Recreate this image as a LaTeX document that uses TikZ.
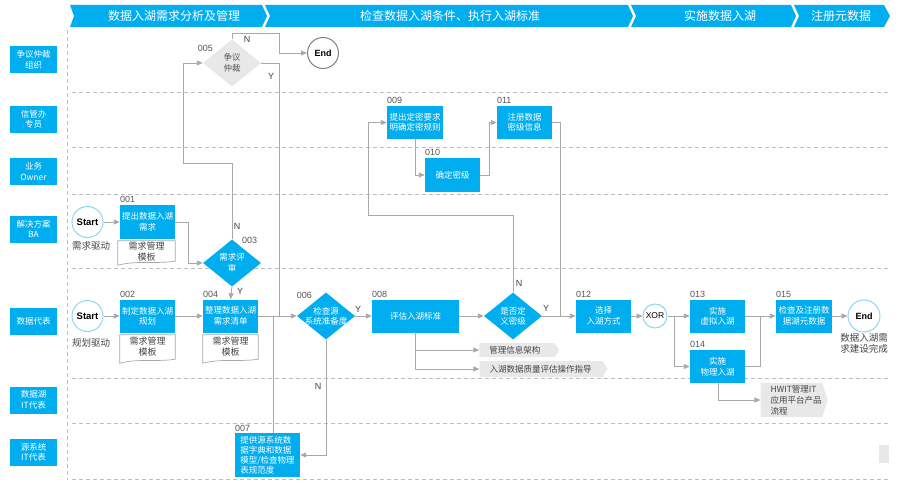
\documentclass[tikz,border=0pt]{standalone}
\usepackage{fontspec}
\setmainfont{Noto Sans CJK SC}
\newfontfamily\lat{Liberation Sans}
\usetikzlibrary{arrows.meta,shapes.geometric,shapes.symbols,calc}
\definecolor{cy}{RGB}{0,174,239}
\definecolor{lcy}{RGB}{140,214,240}
\definecolor{lg}{RGB}{168,168,168}
\definecolor{dashc}{RGB}{190,190,190}
\definecolor{tg}{RGB}{232,232,232}
\definecolor{dg}{RGB}{68,68,68}
\definecolor{numc}{RGB}{85,85,85}
\newcommand\docbox[1]{\draw[draw=lg, line width=0.7pt, fill=white] (#1.north west) -- (#1.north east) -- ([yshift=4pt]#1.south east) .. controls ([xshift=-20pt,yshift=1pt]#1.south east) and ([xshift=20pt,yshift=5pt]#1.south west) .. (#1.south west) -- cycle;}
\begin{document}
\begin{tikzpicture}[x=1pt,y=-1pt,
  conn/.style={draw=lg, line width=0.9pt, -{Triangle[length=6pt,width=5pt]}},
  ln/.style={draw=lg, line width=0.9pt},
  dashln/.style={draw=dashc, line width=0.7pt, dash pattern=on 4pt off 3pt},
  lane/.style={fill=cy, text=white, minimum width=47pt, minimum height=27pt, inner sep=0pt, align=center, font=\fontsize{8.5}{10.5}\selectfont},
  box/.style={fill=cy, text=white, align=center, inner sep=0pt, minimum width=55pt, minimum height=33pt, font=\fontsize{8.5}{10.5}\selectfont},
  dec/.style={diamond, fill=cy, minimum width=58pt, minimum height=47pt, inner sep=0pt},
  dtx/.style={text=white, align=center, inner sep=0pt, font=\fontsize{8.5}{10.5}\selectfont},
  num/.style={text=numc, inner sep=0pt, font=\lat\fontsize{9}{10}\selectfont},
  yn/.style={text=dg, inner sep=0pt, font=\lat\fontsize{9}{10}\selectfont},
  doc/.style={minimum width=55pt, minimum height=27pt, inner sep=0pt, align=center, text=dg, font=\fontsize{9}{11}\selectfont},
  circ/.style={circle, draw=lcy, line width=1pt, fill=white, inner sep=0pt, text=black},
  tag/.style={signal, signal to=east, fill=tg, inner sep=0pt},
  tagtx/.style={text=dg, align=left, inner sep=0pt, anchor=west, font=\fontsize{8.5}{11}\selectfont},
  captx/.style={text=dg, align=center, inner sep=0pt, font=\fontsize{9.5}{11.5}\selectfont},
  head/.style={text=white, inner sep=0pt, font=\fontsize{12}{14}\selectfont}
]
\useasboundingbox (0,0) rectangle (900,484);
% header chevrons
\fill[cy] (70,5) -- (262,5) -- (267,16) -- (262,27) -- (70,27) -- (74,16) -- cycle;
\fill[cy] (265,5) -- (628,5) -- (633,16) -- (628,27) -- (265,27) -- (270,16) -- cycle;
\fill[cy] (631,5) -- (791,5) -- (796,16) -- (791,27) -- (631,27) -- (636,16) -- cycle;
\fill[cy] (794,5) -- (884,5) -- (890,16) -- (884,27) -- (794,27) -- (799,16) -- cycle;
\node[head] (h1) at (174,16) {数据入湖需求分析及管理};
\node[head] (h2) at (450,16) {检查数据入湖条件、执行入湖标准};
\node[head] (h3) at (720,16) {实施数据入湖};
\node[head] (h4) at (841,16) {注册元数据};
% swimlane lines
\draw[dashln] (67,30) -- (67,480);
\foreach \yy in {92,147,194,268,378,423,479} {\draw[dashln] (72,\yy) -- (890,\yy);}
% lane labels
\node[lane] (L1) at (33.5,60) {争议仲裁\\组织};
\node[lane] (L2) at (33.5,119.5) {信管办\\专员};
\node[lane] (L3) at (33.5,171.5) {业务\\Owner};
\node[lane] (L4) at (33.5,229) {解决方案\\BA};
\node[lane] (L5) at (33.5,321) {数据代表};
\node[lane] (L6) at (33.5,400) {数据湖\\IT代表};
\node[lane] (L7) at (33.5,452.5) {源系统\\IT代表};
% start nodes
\node[circ, minimum size=31pt, font=\lat\bfseries\fontsize{9.5}{10}\selectfont] (s1) at (87.5,222) {Start};
\node[captx, anchor=west] (c1) at (72,246) {需求驱动};
\node[circ, minimum size=31pt, font=\lat\bfseries\fontsize{9.5}{10}\selectfont] (s2) at (87.5,316) {Start};
\node[captx, anchor=west] (c2) at (72,343) {规划驱动};
% boxes
\node[box, minimum height=34pt] (n001) at (147.5,222) {提出数据入湖\\需求};
\node[num, anchor=south west] (l001) at ([yshift=2pt]n001.north west) {001};
\node[doc, minimum width=57pt, minimum height=24pt] (m1) at (146.5,253) {};
\docbox{m1}
\node[doc] (m1t) at (146.5,252) {需求管理\\模板};
\node[box] (n002) at (147.5,316) {制定数据入湖\\规划};
\node[num, anchor=south west] (l002) at ([yshift=2pt]n002.north west) {002};
\node[doc, minimum height=28pt] (m2) at (147.5,349) {};
\docbox{m2}
\node[doc] (m2t) at (147.5,347) {需求管理\\模板};
\node[box] (n004) at (230.5,316) {整理数据入湖\\需求清单};
\node[num, anchor=south west] (l004) at ([yshift=2pt]n004.north west) {004};
\node[doc, minimum height=28pt] (m4) at (230.5,349) {};
\docbox{m4}
\node[doc] (m4t) at (230.5,347) {需求管理\\模板};
\node[box, minimum width=65pt, minimum height=44pt, align=left, font=\fontsize{8.5}{10}\selectfont] (n007) at (267.5,455) {提供源系统数\\据字典和数据\\模型/检查物理\\表规范度};
\node[num, anchor=south west] (l007) at ([yshift=1pt]n007.north west) {007};
\node[box, minimum width=87pt] (n008) at (415.5,316) {评估入湖标准};
\node[num, anchor=south west] (l008) at ([yshift=2pt]n008.north west) {008};
\node[box, minimum width=56pt] (n009) at (415,122.5) {提出定密要求\\明确定密规则};
\node[num, anchor=south west] (l009) at ([yshift=2pt]n009.north west) {009};
\node[box, minimum height=34pt] (n010) at (452.5,175) {确定密级};
\node[num, anchor=south west] (l010) at ([yshift=2pt]n010.north west) {010};
\node[box] (n011) at (524.5,122.5) {注册数据\\密级信息};
\node[num, anchor=south west] (l011) at ([yshift=2pt]n011.north west) {011};
\node[box] (n012) at (603.5,316) {选择\\入湖方式};
\node[num, anchor=south west] (l012) at ([yshift=2pt]n012.north west) {012};
\node[box] (n013) at (717.5,316) {实施\\虚拟入湖};
\node[num, anchor=south west] (l013) at ([yshift=2pt]n013.north west) {013};
\node[box] (n014) at (717.5,366.5) {实施\\物理入湖};
\node[num, anchor=south west] (l014) at ([yshift=2pt]n014.north west) {014};
\node[box, minimum width=56pt] (n015) at (804,316) {检查及注册数\\据湖元数据};
\node[num, anchor=south west] (l015) at ([yshift=2pt]n015.north west) {015};
% decisions
\node[dec] (d003) at (232,263) {};
\node[dtx] (t003) at (d003) {需求评\\审};
\node[num, anchor=west] (l003) at (242,240) {003};
\node[dec, fill=tg] (d005) at (232,63) {};
\node[dtx, text=numc] (t005) at (d005) {争议\\仲裁};
\node[num, anchor=east] (l005) at (213,48) {005};
\node[dec] (d006) at (326,316) {};
\node[dtx] (t006) at (d006) {检查源\\系统准备度};
\node[num, anchor=east] (l006) at (312,295) {006};
\node[dec] (dsec) at (513,316) {};
\node[dtx] (tsec) at (dsec) {是否定\\义密级};
% circles
\node[circ, draw=gray, minimum size=31pt, font=\lat\bfseries\fontsize{9}{10}\selectfont] (e1) at (323,53) {End};
\node[circ, minimum size=32pt, font=\lat\bfseries\fontsize{9}{10}\selectfont] (e2) at (864,316) {End};
\node[captx, anchor=north] (c3) at (864,333) {数据入湖需\\求建设完成};
\node[circ, minimum size=24pt, font=\lat\fontsize{8.5}{10}\selectfont] (xor) at (655,316) {XOR};
% tags
\node[tag, minimum width=80pt, minimum height=14pt, signal pointer angle=110] (g1) at (517,350) {};
\node[tagtx] (g1t) at ([xshift=10pt]g1.west) {管理信息架构};
\node[tag, minimum width=128pt, minimum height=16pt, signal pointer angle=115] (g2) at (541,369) {};
\node[tagtx] (g2t) at ([xshift=10pt]g2.west) {入湖数据质量评估操作指导};
\node[tag, minimum width=67pt, minimum height=34pt, signal pointer angle=145] (g3) at (791.5,400) {};
\node[tagtx] (g3t) at ([xshift=10pt]g3.west) {HWIT管理IT\\应用平台产品\\流程};
% small gray block
\fill[tg] (879,445) rectangle (889,463);
% connectors
\draw[conn] (s1) -- (n001);
\draw[conn] (n001.east) -- (188,222) |- (d003.west);
\draw[conn] (d003.north) -- (232,163) -- (183,163) |- (d005.west);
\node[yn] (yN3) at (237,226) {N};
\draw[conn] (d005.north) -- (232,33) -- (279,33) |- (e1.west);
\node[yn] (yN5) at (247,39) {N};
\draw[ln] (d005.east) -- (279,63) -- (279,316);
\node[yn] (yY5) at (271,76) {Y};
\draw[conn] (d003.south) -- (n004.north);
\node[yn] (yY3) at (240,291) {Y};
\draw[conn] (s2) -- (n002);
\draw[conn] (n002) -- (n004);
\draw[conn] (n004.east) -- (d006.west);
\coordinate (j7) at (273,316);
\draw[ln] (j7) -- (j7 |- n007.north);
\draw[conn] (d006.east) -- (n008.west);
\node[yn] (yY6) at (358,309) {Y};
\draw[conn] (d006.south) |- (n007.east);
\node[yn] (yN6) at (318,386) {N};
\coordinate (b8) at (415,332);
\draw[ln] (b8) -- (415,369);
\draw[conn] (415,350) -- (g1.west);
\draw[conn] (415,369) -- (g2.west);
\draw[conn] (n008.east) -- (dsec.west);
\draw[conn] (dsec.north) -- (513,215) -- (368,215) |- (n009.west);
\node[yn] (yNs) at (519,283) {N};
\draw[conn] (n009.south) |- (n010.west);
\draw[conn] (n010.east) -- (489,175) |- (n011.west);
\draw[ln] (n011.east) -- (560,122.5) -- (560,316);
\draw[conn] (dsec.east) -- (n012.west);
\node[yn] (yYs) at (546,308) {Y};
\draw[conn] (n012) -- (xor);
\draw[conn] (xor) -- (n013);
\draw[conn] (674,316) |- (n014.west);
\draw[conn] (n013) -- (n015);
\draw[ln] (n014.east) -- (760,366.5) -- (760,316);
\draw[conn] (n015) -- (e2);
\draw[conn] (718,383) |- (g3.west);
\end{tikzpicture}
\end{document}
